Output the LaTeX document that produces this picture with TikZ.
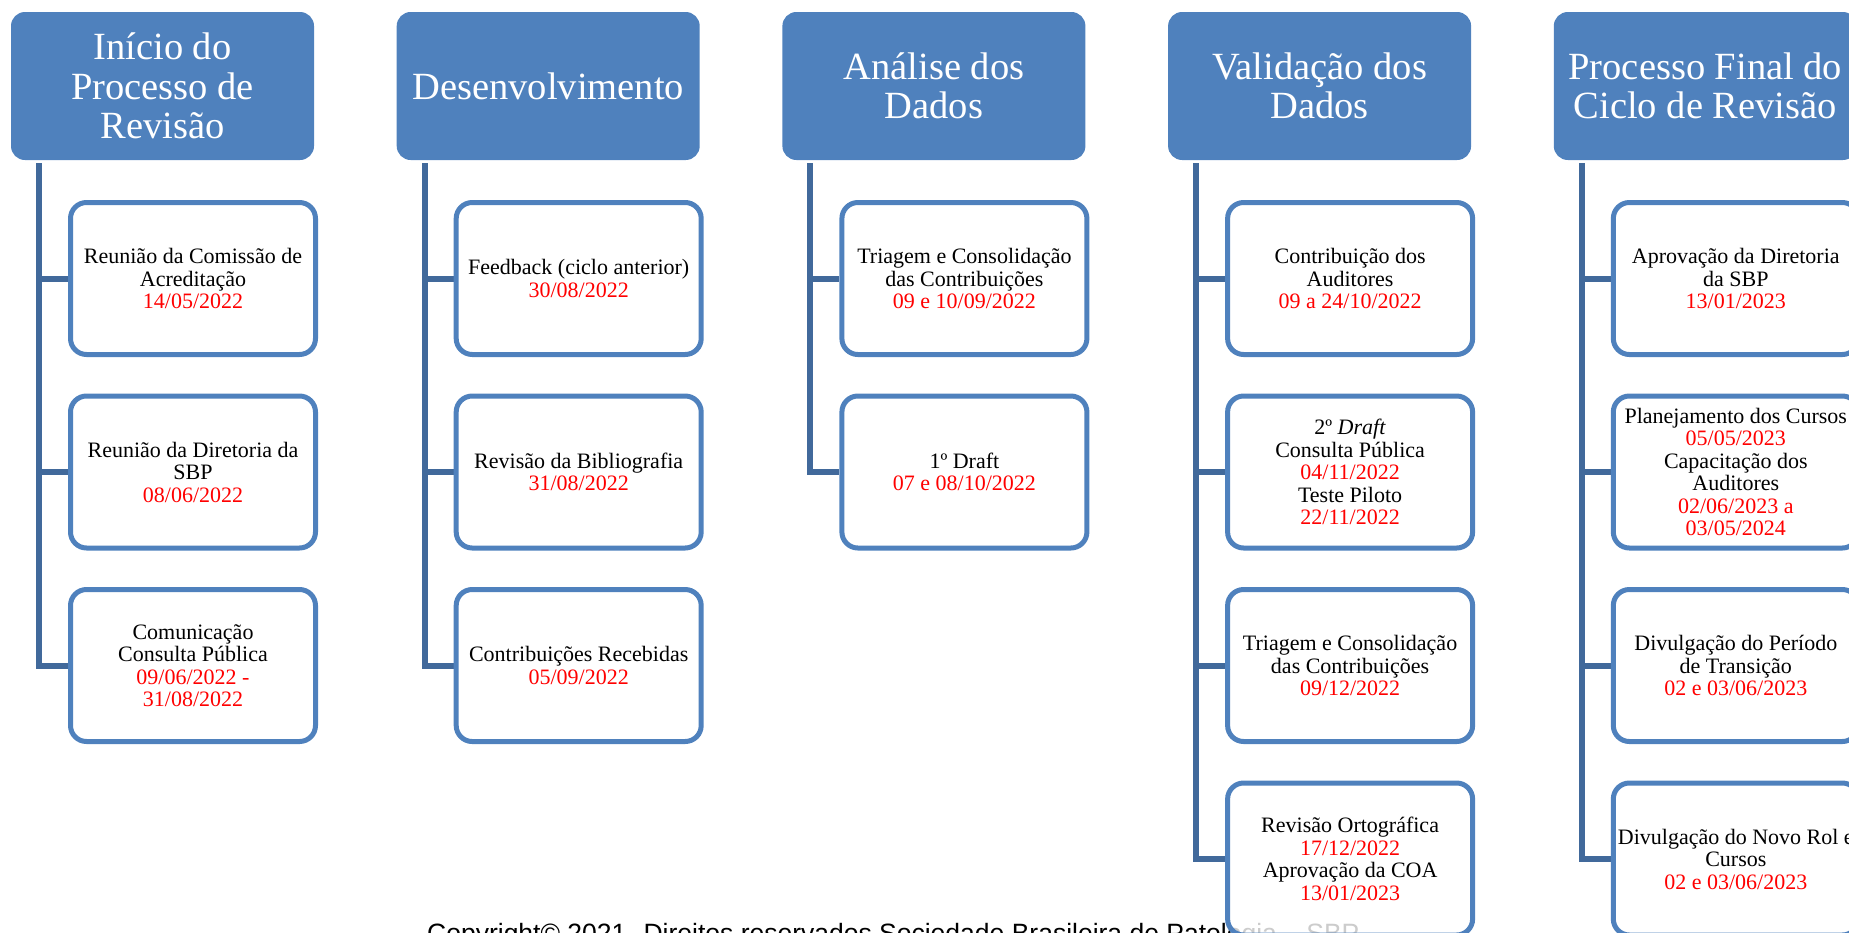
\documentclass[tikz,border=0pt]{standalone}
\usepackage{fontspec}
\setmainfont{Liberation Serif}
\newfontfamily\copyfont{Liberation Sans}
\definecolor{hdr}{HTML}{4F81BD}
\definecolor{lnc}{HTML}{41699B}
\definecolor{dred}{HTML}{FF0000}
\pgfdeclarelayer{background}
\pgfsetlayers{background,main}
\newcommand{\dt}[1]{\textcolor{dred}{#1}}
\tikzset{
  hdrbox/.style={rectangle, rounded corners=14pt, fill=hdr, draw=none,
    minimum width=303pt, minimum height=148pt, inner sep=0pt, text=white,
    align=center, font=\fontsize{38.5}{39.5}\selectfont},
  itembox/.style={rectangle, rounded corners=16pt, draw=hdr, line width=5pt,
    fill=white, fill opacity=0.8, text opacity=1, minimum width=245pt,
    minimum height=152pt, inner sep=0pt, align=center,
    font=\fontsize{22}{22.5}\selectfont},
  conn/.style={draw=lnc, line width=6pt},
  copytext/.style={anchor=base west, inner sep=0pt, text=black,
    font=\copyfont\fontsize{26.5}{26.5}\selectfont},
}
\begin{document}
\begin{tikzpicture}[x=1pt,y=-1pt]
\useasboundingbox (0,0) rectangle (1849,932);
\clip (0,0) rectangle (1849,932);

% headers
\node[hdrbox] (h1) at (162.5,86) {Início do\\Processo de\\Revisão};
\node[hdrbox] (h2) at (548.2,86) {Desenvolvimento};
\node[hdrbox] (h3) at (933.9,86) {Análise dos\\Dados};
\node[hdrbox] (h4) at (1319.6,86) {Validação dos\\Dados};
\node[hdrbox] (h5) at (1705.3,86) {Processo Final do\\Ciclo de Revisão};

% column 1
\node[itembox] (b11) at (193,278.5) {Reunião da Comissão de\\Acreditação\\\dt{14/05/2022}};
\node[itembox] (b12) at (193,472) {Reunião da Diretoria da\\SBP\\\dt{08/06/2022}};
\node[itembox] (b13) at (193,665.5) {Comunicação\\Consulta Pública\\\dt{09/06/2022 -}\\\dt{31/08/2022}};

% column 2
\node[itembox] (b21) at (578.7,278.5) {Feedback (ciclo anterior)\\\dt{30/08/2022}};
\node[itembox] (b22) at (578.7,472) {Revisão da Bibliografia\\\dt{31/08/2022}};
\node[itembox] (b23) at (578.7,665.5) {Contribuições Recebidas\\\dt{05/09/2022}};

% column 3
\node[itembox] (b31) at (964.4,278.5) {Triagem e Consolidação\\das Contribuições\\\dt{09 e 10/09/2022}};
\node[itembox] (b32) at (964.4,472) {1º Draft\\\dt{07 e 08/10/2022}};

% column 4
\node[itembox] (b41) at (1350.1,278.5) {Contribuição dos\\Auditores\\\dt{09 a 24/10/2022}};
\node[itembox] (b42) at (1350.1,472) {2º \textit{Draft}\\Consulta Pública\\\dt{04/11/2022}\\Teste Piloto\\\dt{22/11/2022}};
\node[itembox] (b43) at (1350.1,665.5) {Triagem e Consolidação\\das Contribuições\\\dt{09/12/2022}};
\node[itembox] (b44) at (1350.1,859) {Revisão Ortográfica\\\dt{17/12/2022}\\Aprovação da COA\\\dt{13/01/2023}};

% column 5
\node[itembox] (b51) at (1735.8,278.5) {Aprovação da Diretoria\\da SBP\\\dt{13/01/2023}};
\node[itembox] (b52) at (1735.8,472) {Planejamento dos Cursos\\\dt{05/05/2023}\\Capacitação dos\\Auditores\\\dt{02/06/2023 a}\\\dt{03/05/2024}};
\node[itembox] (b53) at (1735.8,665.5) {Divulgação do Período\\de Transição\\\dt{02 e 03/06/2023}};
\node[itembox] (b54) at (1735.8,859) {Divulgação do Novo Rol e\\Cursos\\\dt{02 e 03/06/2023}};

\begin{pgfonlayer}{background}
\node[copytext] (copy) at (427,942) {Copyright© 2021. Direitos reservados Sociedade Brasileira de Patologia – SBP};

\coordinate (t1) at (39,163);
\coordinate (t2) at (424.7,163);
\coordinate (t3) at (810.4,163);
\coordinate (t4) at (1196.1,163);
\coordinate (t5) at (1581.8,163);

\draw[conn] (t1) |- (b13.west);
\draw[conn] (t1 |- b11.west) -- (b11.west);
\draw[conn] (t1 |- b12.west) -- (b12.west);

\draw[conn] (t2) |- (b23.west);
\draw[conn] (t2 |- b21.west) -- (b21.west);
\draw[conn] (t2 |- b22.west) -- (b22.west);

\draw[conn] (t3) |- (b32.west);
\draw[conn] (t3 |- b31.west) -- (b31.west);

\draw[conn] (t4) |- (b44.west);
\draw[conn] (t4 |- b41.west) -- (b41.west);
\draw[conn] (t4 |- b42.west) -- (b42.west);
\draw[conn] (t4 |- b43.west) -- (b43.west);

\draw[conn] (t5) |- (b54.west);
\draw[conn] (t5 |- b51.west) -- (b51.west);
\draw[conn] (t5 |- b52.west) -- (b52.west);
\draw[conn] (t5 |- b53.west) -- (b53.west);
\end{pgfonlayer}
\end{tikzpicture}
\end{document}
